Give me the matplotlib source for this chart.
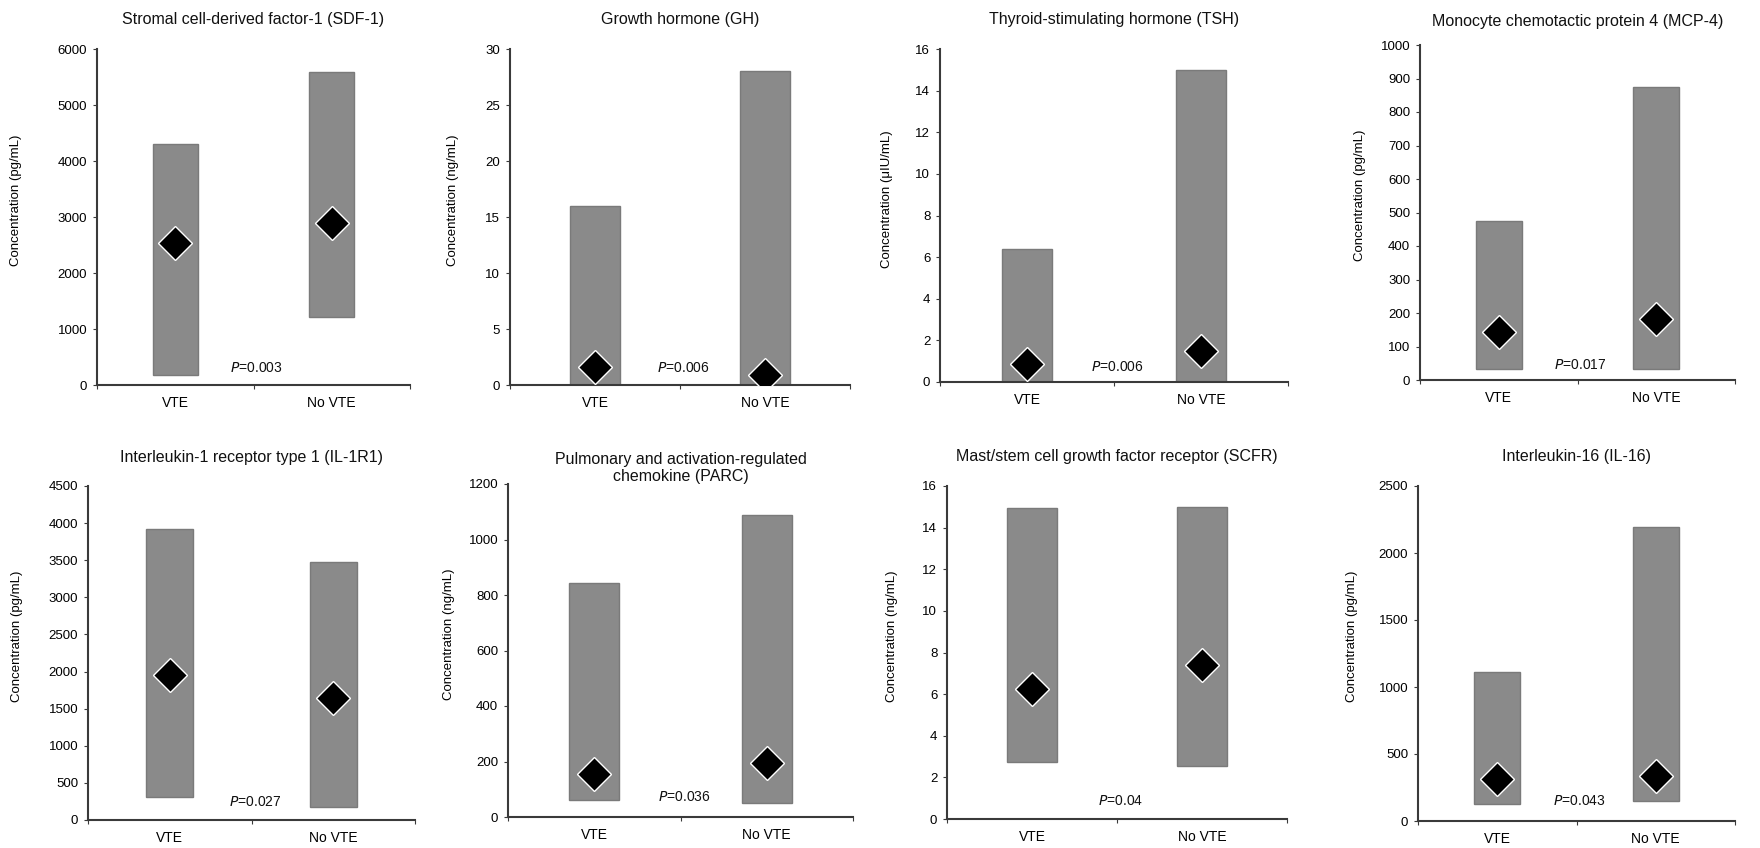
import matplotlib
matplotlib.use("Agg")
import matplotlib.pyplot as plt
from matplotlib.ticker import MultipleLocator, FixedLocator, NullFormatter

plt.rcParams['font.family'] = ['Liberation Sans', 'DejaVu Sans']

groups = ["VTE", "No VTE"]

titles = [
    "Stromal cell-derived factor-1 (SDF-1)",
    "Growth hormone (GH)",
    "Thyroid-stimulating hormone (TSH)",
    "Monocyte chemotactic protein 4 (MCP-4)",
    "Interleukin-1 receptor type 1 (IL-1R1)",
    "Pulmonary and activation-regulated\nchemokine (PARC)",
    "Mast/stem cell growth factor receptor (SCFR)",
    "Interleukin-16 (IL-16)",
]
units = ["pg/mL", "ng/mL", "\u03bcIU/mL", "pg/mL", "pg/mL", "ng/mL", "ng/mL", "pg/mL"]
y_max = [6000, 30, 16, 1000, 4500, 1200, 16, 2500]
y_step = [1000, 5, 2, 100, 500, 200, 2, 500]

# range bars (low / high) and medians
vte_low = [175, 0, 0, 32, 305, 62, 2.75, 129]
vte_high = [4300, 16, 6.4, 474, 3918, 843, 14.96, 1114]
novte_low = [1210, 0, 0, 32, 180, 50, 2.56, 149]
novte_high = [5595, 28, 15, 876, 3470, 1090, 15, 2194]
vte_median = [2535, 1.65, 0.88, 142, 1957, 154, 6.27, 311]
novte_median = [2890, 0.9, 1.49, 181, 1638, 196, 7.4, 336]

p_values = ["0.003", "0.006", "0.006", "0.017", "0.027", "0.036", "0.04", "0.043"]
p_label_y = [300, 1.55, 0.72, 45, 238, 72, 0.88, 149]

# axes boxes in pixels: left, right, top, bottom
W, H = 1760, 848
boxes = [
    (97, 410, 49, 385), (510, 850, 49, 385), (940, 1288, 49, 382), (1420, 1735, 45, 380),
    (88, 415, 486, 820), (508, 853, 484, 817), (947, 1287, 486, 819), (1418, 1735, 486, 821),
]
ylabel_x = [-0.24, -0.15, -0.135, -0.17, -0.2, -0.155, -0.145, -0.19]
title_pad = [18, 18, 18, 14, 17, 1, 18, 18]

fig = plt.figure(figsize=(W / 100, H / 100), dpi=100)
bar_color = "#8a8a8a"
axis_color = "#3a3a3a"

for i in range(8):
    l, r, t, b = boxes[i]
    ax = fig.add_axes([l / W, 1 - b / H, (r - l) / W, (b - t) / H])

    lows = [vte_low[i], novte_low[i]]
    highs = [vte_high[i], novte_high[i]]
    heights = [highs[k] - lows[k] for k in range(2)]
    ax.bar([0, 1], heights, bottom=lows, width=0.29, color=bar_color,
           edgecolor="#7a7a7a", linewidth=1.0, zorder=2)
    ax.plot([0, 1], [vte_median[i], novte_median[i]], linestyle="none",
            marker="D", markersize=17, color="black",
            markeredgecolor="white", markeredgewidth=1.0, zorder=3)

    ax.text(0.52, p_label_y[i], r"$\it{P}$=" + p_values[i], ha="center", va="center",
            fontsize=10, color="#111111", zorder=4)

    ax.set_xlim(-0.5, 1.5)
    ax.set_ylim(0, y_max[i])
    ax.yaxis.set_major_locator(MultipleLocator(y_step[i]))

    ax.xaxis.set_major_locator(FixedLocator([-0.5, 0.5, 1.5]))
    ax.xaxis.set_major_formatter(NullFormatter())
    ax.xaxis.set_minor_locator(FixedLocator([0, 1]))
    ax.set_xticklabels(groups, minor=True)
    ax.tick_params(axis="x", which="minor", length=0, pad=8, labelsize=10)
    ax.tick_params(axis="x", which="major", length=3, direction="out", color=axis_color)
    ax.tick_params(axis="y", length=3, direction="out", labelsize=9.5,
                   color=axis_color, pad=4)

    for side in ["top", "right"]:
        ax.spines[side].set_visible(False)
    for side in ["left", "bottom"]:
        ax.spines[side].set_color(axis_color)
        ax.spines[side].set_linewidth(1.5)

    ax.set_ylabel("Concentration (" + units[i] + ")", fontsize=9.5)
    ax.yaxis.set_label_coords(ylabel_x[i], 0.55)
    ax.set_title(titles[i], fontsize=11.5, pad=title_pad[i], color="#111111")

fig.savefig("out.png", dpi=100, facecolor="white")
